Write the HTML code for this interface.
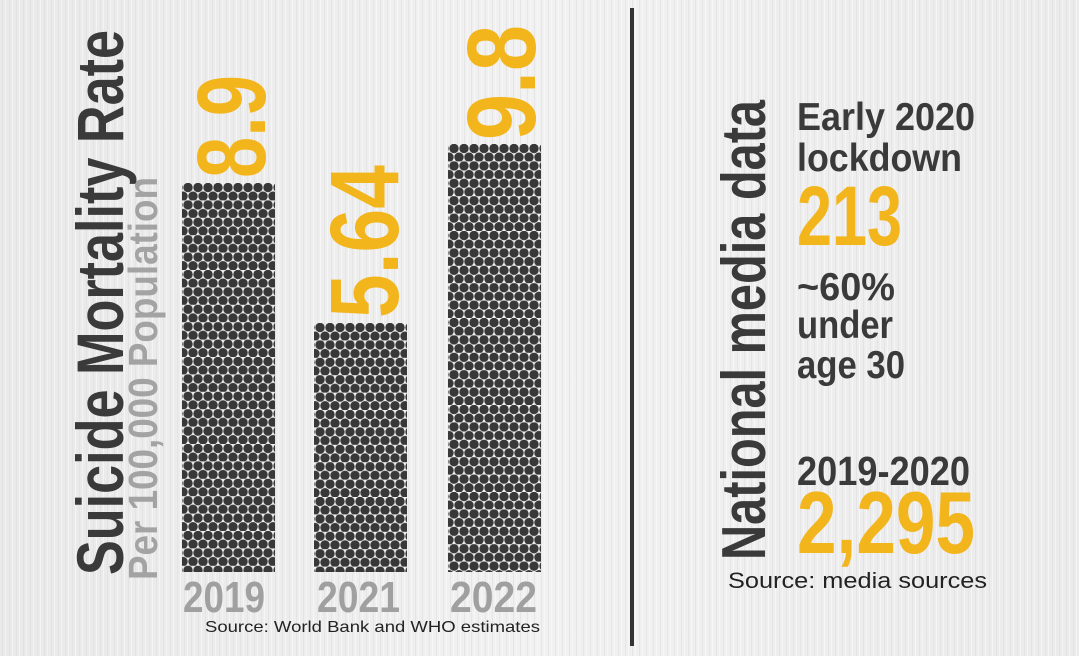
<!DOCTYPE html>
<html><head><meta charset="utf-8"><style>
html,body{margin:0;padding:0;width:1079px;height:656px;overflow:hidden;background:#eeeeee}
svg{display:block}
text{font-family:"Liberation Sans",sans-serif;font-weight:bold}
</style></head><body>
<svg width="1079" height="656" viewBox="0 0 1079 656" xmlns="http://www.w3.org/2000/svg">
<defs>
<linearGradient id="bg" x1="0" x2="1" y1="0" y2="0">
<stop offset="0" stop-color="#e9e9e9"/><stop offset="0.5" stop-color="#f1f1f1"/><stop offset="1" stop-color="#ebebeb"/>
</linearGradient>
<pattern id="grain" width="7" height="656" patternUnits="userSpaceOnUse">
<rect x="2" width="1" height="656" fill="#dcdcdc" opacity="0.5"/>
<rect x="5" width="1" height="656" fill="#fafafa" opacity="0.6"/>
</pattern>
<pattern id="d1" x="183" y="183" width="10" height="17.4" patternUnits="userSpaceOnUse">
<circle cx="5" cy="4.5" r="4.7" fill="#383838"/><circle cx="0" cy="13.2" r="4.7" fill="#383838"/><circle cx="10" cy="13.2" r="4.7" fill="#383838"/>
</pattern>
<pattern id="d2" x="315" y="323" width="10" height="17.4" patternUnits="userSpaceOnUse">
<circle cx="5" cy="4.5" r="4.7" fill="#383838"/><circle cx="0" cy="13.2" r="4.7" fill="#383838"/><circle cx="10" cy="13.2" r="4.7" fill="#383838"/>
</pattern>
<pattern id="d3" x="449" y="144" width="10" height="17.4" patternUnits="userSpaceOnUse">
<circle cx="5" cy="4.5" r="4.7" fill="#383838"/><circle cx="0" cy="13.2" r="4.7" fill="#383838"/><circle cx="10" cy="13.2" r="4.7" fill="#383838"/>
</pattern>
</defs>
<rect width="1079" height="656" fill="url(#bg)"/>
<rect width="1079" height="656" fill="url(#grain)"/>

<rect x="182" y="183" width="93" height="389" fill="url(#d1)"/>
<rect x="314" y="323" width="93" height="249" fill="url(#d2)"/>
<rect x="448" y="144" width="93" height="428" fill="url(#d3)"/>

<text transform="translate(123,575) rotate(-90)" font-size="66" fill="#3a3a3a" textLength="545" lengthAdjust="spacingAndGlyphs">Suicide Mortality Rate</text>
<text transform="translate(157,580) rotate(-90)" font-size="41" fill="#a3a3a3" textLength="403" lengthAdjust="spacingAndGlyphs">Per 100,000 Population</text>

<text transform="translate(265,178) rotate(-90)" font-size="97" fill="#f2b51c" textLength="103" lengthAdjust="spacingAndGlyphs">8.9</text>
<text transform="translate(398,318) rotate(-90)" font-size="97" fill="#f2b51c" textLength="153" lengthAdjust="spacingAndGlyphs">5.64</text>
<text transform="translate(535,140) rotate(-90)" font-size="97" fill="#f2b51c" textLength="115" lengthAdjust="spacingAndGlyphs">9.8</text>

<text x="183" y="612" font-size="44" fill="#a0a0a0" textLength="82" lengthAdjust="spacingAndGlyphs">2019</text>
<text x="317" y="612" font-size="44" fill="#a0a0a0" textLength="83" lengthAdjust="spacingAndGlyphs">2021</text>
<text x="450" y="612" font-size="44" fill="#a0a0a0" textLength="87" lengthAdjust="spacingAndGlyphs">2022</text>
<text x="205" y="632" font-size="16" style="font-weight:normal" fill="#222" textLength="335" lengthAdjust="spacingAndGlyphs">Source: World Bank and WHO estimates</text>

<rect x="630" y="8" width="4" height="638" fill="#333"/>

<text transform="translate(765,560) rotate(-90)" font-size="62" fill="#3a3a3a" textLength="460" lengthAdjust="spacingAndGlyphs">National media data</text>
<text x="797" y="130" font-size="39" fill="#3a3a3a" textLength="178" lengthAdjust="spacingAndGlyphs">Early 2020</text>
<text x="797" y="171" font-size="39" fill="#3a3a3a" textLength="165" lengthAdjust="spacingAndGlyphs">lockdown</text>
<text x="797" y="245" font-size="84" fill="#f2b51c" textLength="105" lengthAdjust="spacingAndGlyphs">213</text>
<text x="797" y="300" font-size="39" fill="#3a3a3a" textLength="98" lengthAdjust="spacingAndGlyphs">~60%</text>
<text x="797" y="338" font-size="39" fill="#3a3a3a" textLength="96" lengthAdjust="spacingAndGlyphs">under</text>
<text x="797" y="378" font-size="39" fill="#3a3a3a" textLength="108" lengthAdjust="spacingAndGlyphs">age 30</text>
<text x="797" y="485" font-size="41" fill="#3a3a3a" textLength="173" lengthAdjust="spacingAndGlyphs">2019-2020</text>
<text x="797" y="553" font-size="88" fill="#f2b51c" textLength="178" lengthAdjust="spacingAndGlyphs">2,295</text>
<text x="728" y="588" font-size="22" style="font-weight:normal" fill="#222" textLength="259" lengthAdjust="spacingAndGlyphs">Source: media sources</text>
</svg>
</body></html>
